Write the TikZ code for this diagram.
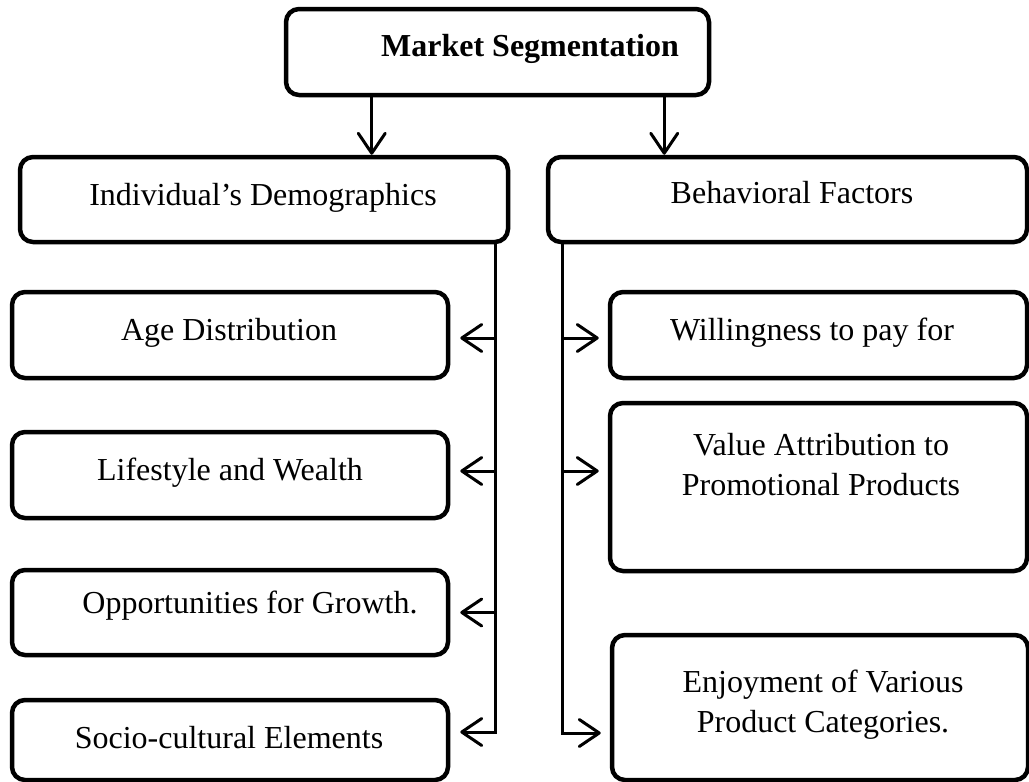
\documentclass[tikz,border=0pt]{standalone}
\usepackage{fontspec}
\setmainfont{Liberation Serif}
\usetikzlibrary{arrows.meta}

\begin{document}
\begin{tikzpicture}[x=1pt, y=-1pt,
  box/.style={draw=black, line width=4.5pt, rounded corners=13pt,
    minimum width=#1, inner sep=0pt, fill=white},
  txt/.style={font=\fontsize{32}{40}\selectfont, inner sep=0pt, align=center, anchor=base},
  conn/.style={draw=black, line width=3pt},
  arr/.style={conn, -{Straight Barb[length=20pt, width=27pt, round]}}]

\useasboundingbox (0,0) rectangle (1029,782);

% boxes
\node[box=423pt, minimum height=86pt] (top)  at (497.5,52)  {};
\node[box=488pt, minimum height=85pt] (demo) at (264,199.5) {};
\node[box=479pt, minimum height=85pt] (beh)  at (787.5,199.5) {};

\node[box=436pt, minimum height=86pt] (age)  at (230,335)   {};
\node[box=436pt, minimum height=86pt] (life) at (230,475)   {};
\node[box=436pt, minimum height=85pt] (opp)  at (230,612.5) {};
\node[box=436pt, minimum height=80pt] (soc)  at (230,740)   {};

\node[box=417pt, minimum height=86pt]  (will) at (818.5,335)   {};
\node[box=417pt, minimum height=168pt] (val)  at (818.5,487)   {};
\node[box=416pt, minimum height=145pt] (enj)  at (820,707.5)   {};

% texts (multi-line texts sit on the baseline of their last line)
\node[txt, font=\fontsize{32}{40}\selectfont\bfseries] (toptxt) at (530,56) {Market Segmentation};
\node[txt] (demotxt) at (263,205) {Individual’s Demographics};
\node[txt] (behtxt)  at (792,203) {Behavioral Factors};
\node[txt] (agetxt)  at (229,340) {Age Distribution};
\node[txt] (lifetxt) at (230,480) {Lifestyle and Wealth};
\node[txt] (opptxt)  at (250,613) {Opportunities for Growth.};
\node[txt] (soctxt)  at (229,748) {Socio-cultural Elements};
\node[txt] (willtxt) at (812,340) {Willingness to pay for};
\node[txt] (valtxt)  at (821,495) {Value Attribution to\\Promotional Products};
\node[txt] (enjtxt)  at (823,732) {Enjoyment of Various\\Product Categories.};

% from the root to the two groups
\draw[arr] ([xshift=88pt]top.south west) -- ([xshift=88pt]top.south west |- demo.north);
\draw[arr] ([xshift=-47pt]top.south east) -- ([xshift=-47pt]top.south east |- beh.north);

% left trunk and its branches
\coordinate (ltrunk) at ([xshift=-15pt]demo.south east);
\draw[arr] (ltrunk |- age.east)  ++(0,3) -- ([xshift=10pt, yshift=-3pt]age.east);
\draw[arr] (ltrunk |- life.east) ++(0,-4) -- ([xshift=10pt, yshift=4pt]life.east);
\draw[arr] (ltrunk |- opp.east)  -- ([xshift=10pt]opp.east);
\draw[arr] (ltrunk) |- ([xshift=10pt, yshift=8pt]soc.east);

% right trunk and its branches
\coordinate (rtrunk) at ([xshift=17pt]beh.south west);
\draw[arr] (rtrunk |- will.west) ++(0,3) -- ([xshift=-9pt, yshift=-3pt]will.west);
\draw[arr] (rtrunk |- val.west)  ++(0,-16) -- ([xshift=-9pt, yshift=16pt]val.west);
\draw[arr] (rtrunk) |- ([xshift=-9pt, yshift=-25.5pt]enj.west);

\end{tikzpicture}
\end{document}
